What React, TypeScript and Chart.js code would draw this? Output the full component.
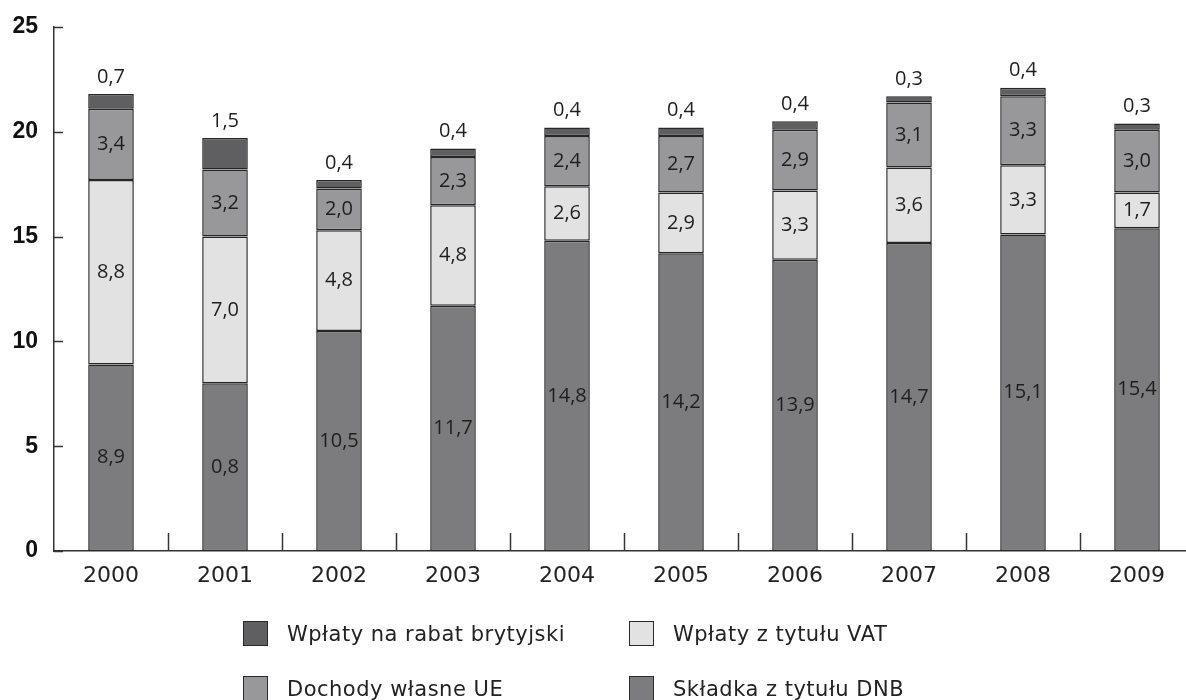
import React, { useEffect, useRef } from "react";
import { Chart, registerables } from "chart.js";

Chart.register(...registerables);

const years = ["2000", "2001", "2002", "2003", "2004", "2005", "2006", "2007", "2008", "2009"];
const dnb = [8.9, 8.0, 10.5, 11.7, 14.8, 14.2, 13.9, 14.7, 15.1, 15.4];
const dnbLabels = ["8,9", "0,8", "10,5", "11,7", "14,8", "14,2", "13,9", "14,7", "15,1", "15,4"];
const vat = [8.8, 7.0, 4.8, 4.8, 2.6, 2.9, 3.3, 3.6, 3.3, 1.7];
const ownRes = [3.4, 3.2, 2.0, 2.3, 2.4, 2.7, 2.9, 3.1, 3.3, 3.0];
const rebate = [0.7, 1.5, 0.4, 0.4, 0.4, 0.4, 0.4, 0.3, 0.4, 0.3];
const yTicks = [0, 5, 10, 15, 20, 25];

const seriesNames = ["Składka z tytułu DNB", "Wpłaty z tytułu VAT", "Dochody własne UE", "Wpłaty na rabat brytyjski"];
const seriesColors = ["#7c7c7f", "#e2e2e3", "#98989b", "#5f5f62"];

const fmt = (v: number) => v.toFixed(1).replace(".", ",");

const decorPlugin = {
  id: "decor",
  afterDraw(chart: any) {
    const ctx = chart.ctx;
    const x = chart.scales.x;
    const y = chart.scales.y;
    const area = chart.chartArea;
    ctx.save();
    ctx.strokeStyle = "#333";
    ctx.lineWidth = 1.5;
    yTicks.forEach((t) => {
      const py = Math.round(y.getPixelForValue(t)) + 0.5;
      ctx.beginPath();
      ctx.moveTo(area.left, py);
      ctx.lineTo(area.left + 9, py);
      ctx.stroke();
    });
    const n = years.length;
    for (let i = 1; i < n; i++) {
      const px = Math.round((x.getPixelForValue(i - 1) + x.getPixelForValue(i)) / 2) + 0.5;
      ctx.beginPath();
      ctx.moveTo(px, area.bottom);
      ctx.lineTo(px, area.bottom - 18);
      ctx.stroke();
    }
    ctx.restore();
  },
  afterDatasetsDraw(chart: any) {
    const ctx = chart.ctx;
    ctx.save();
    ctx.fillStyle = "#1e1e1e";
    ctx.font = "20px 'Open Sans'";
    ctx.textAlign = "center";
    ctx.textBaseline = "middle";
    chart.data.datasets.forEach((ds: any, di: number) => {
      const meta = chart.getDatasetMeta(di);
      meta.data.forEach((el: any, i: number) => {
        const p = el.getProps(["x", "y", "base"], true);
        const text = di === 0 ? dnbLabels[i] : fmt(ds.data[i]);
        if (di === 3) {
          ctx.fillText(text, p.x, p.y - 17);
        } else {
          ctx.fillText(text, p.x, (p.y + p.base) / 2);
        }
      });
    });
    ctx.restore();
  },
};

export default function App() {
  const ref = useRef<HTMLCanvasElement | null>(null);

  useEffect(() => {
    document.body.style.margin = "0";
    document.body.style.overflow = "hidden";
    const c = ref.current;
    if (!c) return;
    const datasets = [dnb, vat, ownRes, rebate].map((d, i) => ({
      label: seriesNames[i],
      data: d,
      backgroundColor: seriesColors[i],
      borderColor: "#262626",
      borderWidth: 1.5,
      borderSkipped: false,
      barPercentage: 0.4,
      categoryPercentage: 1,
    }));
    const chart = new Chart(c, {
      type: "bar",
      data: { labels: years, datasets },
      plugins: [decorPlugin],
      options: {
        animation: false,
        responsive: false,
        maintainAspectRatio: false,
        layout: { padding: { top: 27, right: 0, left: 0, bottom: 0 } },
        plugins: { legend: { display: false }, tooltip: { enabled: false } },
        scales: {
          x: {
            stacked: true,
            grid: { display: false, drawTicks: false },
            border: { display: true, color: "#333", width: 1.5 },
            ticks: {
              color: "#222",
              padding: 12,
              font: { family: "'DejaVu Sans'", size: 22 },
            },
            afterFit: (s: any) => {
              s.height = 700 - 551;
            },
          },
          y: {
            stacked: true,
            min: 0,
            max: 25,
            grid: { display: false, drawTicks: false },
            border: { display: true, color: "#333", width: 1.5 },
            ticks: {
              stepSize: 5,
              color: "#111",
              padding: 16,
              font: { family: "'Liberation Sans'", size: 23, weight: "bold" },
            },
            afterFit: (s: any) => {
              s.width = 54;
              s.paddingTop = 0;
              s.paddingBottom = 0;
            },
          },
        },
      },
    });
    return () => chart.destroy();
  }, []);

  const legendItems = [
    { name: seriesNames[3], color: seriesColors[3], left: 243, top: 621 },
    { name: seriesNames[1], color: seriesColors[1], left: 629, top: 621 },
    { name: seriesNames[2], color: seriesColors[2], left: 243, top: 676 },
    { name: seriesNames[0], color: seriesColors[0], left: 629, top: 676 },
  ];

  return (
    <div style={{ position: "relative", width: 1194, height: 700, background: "#fff" }}>
      <canvas ref={ref} width={1194} height={700} style={{ width: 1194, height: 700, display: "block" }} />
      {legendItems.map((it) => (
        <div
          key={it.name}
          style={{
            position: "absolute",
            left: it.left,
            top: it.top,
            display: "flex",
            alignItems: "center",
            fontFamily: "'DejaVu Sans'",
            fontSize: 21,
            color: "#222",
            whiteSpace: "nowrap",
          }}
        >
          <span
            style={{
              display: "inline-block",
              width: 25,
              height: 25,
              background: it.color,
              border: "1.5px solid #2a2a2a",
              boxSizing: "border-box",
              marginRight: 19,
            }}
          />
          <span style={{ letterSpacing: 0.5 }}>{it.name}</span>
        </div>
      ))}
    </div>
  );
}
